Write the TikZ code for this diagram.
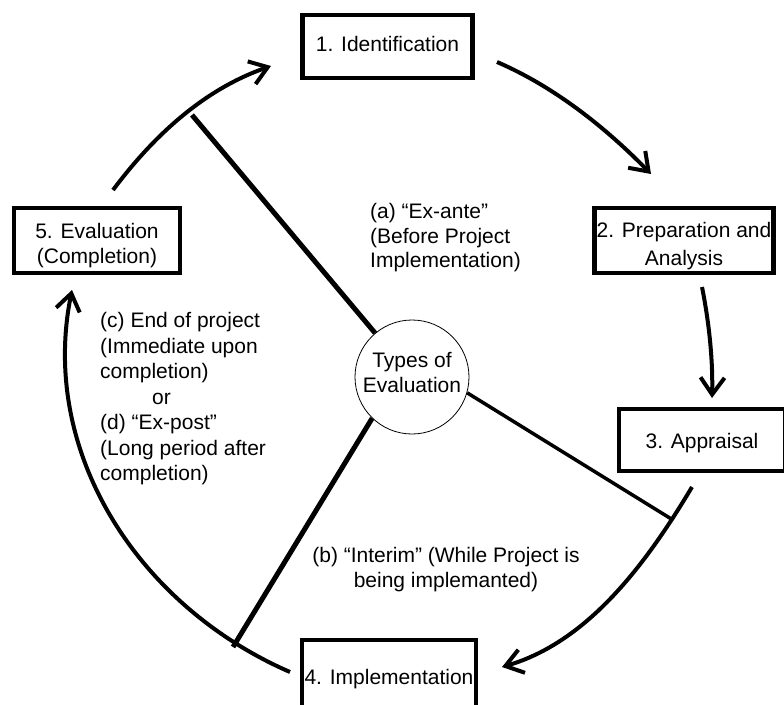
\documentclass[tikz,border=0pt]{standalone}
\usepackage{fontspec}
\setmainfont{Liberation Sans}
\usetikzlibrary{arrows.meta}
\begin{document}
\begin{tikzpicture}[x=1pt,y=-1pt,
  lbl/.style={inner sep=0pt, font=\fontsize{21}{25}\selectfont},
  box/.style={draw, line width=4.5pt, inner sep=2pt, align=center, font=\fontsize{21}{25}\selectfont},
  flow/.style={line width=4pt, -{Straight Barb[length=17pt,width=24pt]}},
  spoke/.style={line width=5pt}]
\path[use as bounding box] (0,0) rectangle (784,704);
\fill[white] (0,0) rectangle (784,704);
\clip (0,0) rectangle (784,704);
% boxes
\node[box, minimum width=170pt, minimum height=63pt] (n1) at (387.5,46.5) {1. Identification\rule[-6pt]{0pt}{6pt}};
\node[box, minimum width=174pt, minimum height=65pt] (n2) at (684,240.5) {\rule{0pt}{27pt}2. Preparation and\\[3pt]Analysis};
\node[box, minimum width=166pt, minimum height=62pt] (n3) at (702,440) {\rule{0pt}{21pt}3. Appraisal};
\node[box, minimum width=174pt, minimum height=74pt] (n4) at (389,677) {\rule{0pt}{19pt}4. Implementation};
\node[box, minimum width=166pt, minimum height=65pt] (n5) at (97,240.5) {\rule{0pt}{24.5pt}5. Evaluation\\(Completion)};
% centre
\node[lbl, circle, draw, line width=0.8pt, minimum size=114pt, align=center] (circ) at (412,377) {Types of\\Evaluation\rule[-10pt]{0pt}{10pt}};
% labels
\node[lbl, anchor=base west, align=left] (ta) at (370,267.5) {(a) “Ex-ante”\\[-0.5pt](Before Project\\[-0.5pt]Implementation)};
\node[lbl, anchor=base west, align=left, font=\fontsize{21}{25.5}\selectfont] (tc) at (100,480.5) {(c) End of project\\(Immediate upon\\completion)\\\hspace*{52pt}or\\(d) “Ex-post”\\(Long period after\\completion)};
\node[lbl, anchor=base, align=center] (tb) at (446,587) {(b) “Interim” (While Project is\\being implemanted)};
% arrow end points
\coordinate (s12) at (497,62);  \coordinate (e12) at (651,174);
\coordinate (s23) at (702,287); \coordinate (e23) at (712,398);
\coordinate (s34) at (692,487); \coordinate (e34) at (502,667);
\coordinate (s45) at (290,672); \coordinate (e45) at (72,290);
\coordinate (s51) at (113,190); \coordinate (e51) at (271,66);
\draw[flow] (s12) .. controls (555,87) and (606,128) .. (e12);
\draw[flow] (s23) .. controls (709,322) and (713,360) .. (e23);
\draw[flow] (s34) .. controls (646,564) and (588,642) .. (e34);
\draw[flow] (s45) .. controls (138,606) and (39,452) .. (e45);
\draw[flow] (s51) .. controls (155,134) and (205,89) .. (e51);
% spokes
\coordinate (pa) at (192,115);
\coordinate (pc) at (233,647);
\coordinate (pb) at (673,520);
\draw[spoke] (pa) -- (circ);
\draw[spoke] (pc) -- (circ.226);
\draw[spoke, line width=3.5pt] (circ.-16) -- (pb);
\end{tikzpicture}
\end{document}
